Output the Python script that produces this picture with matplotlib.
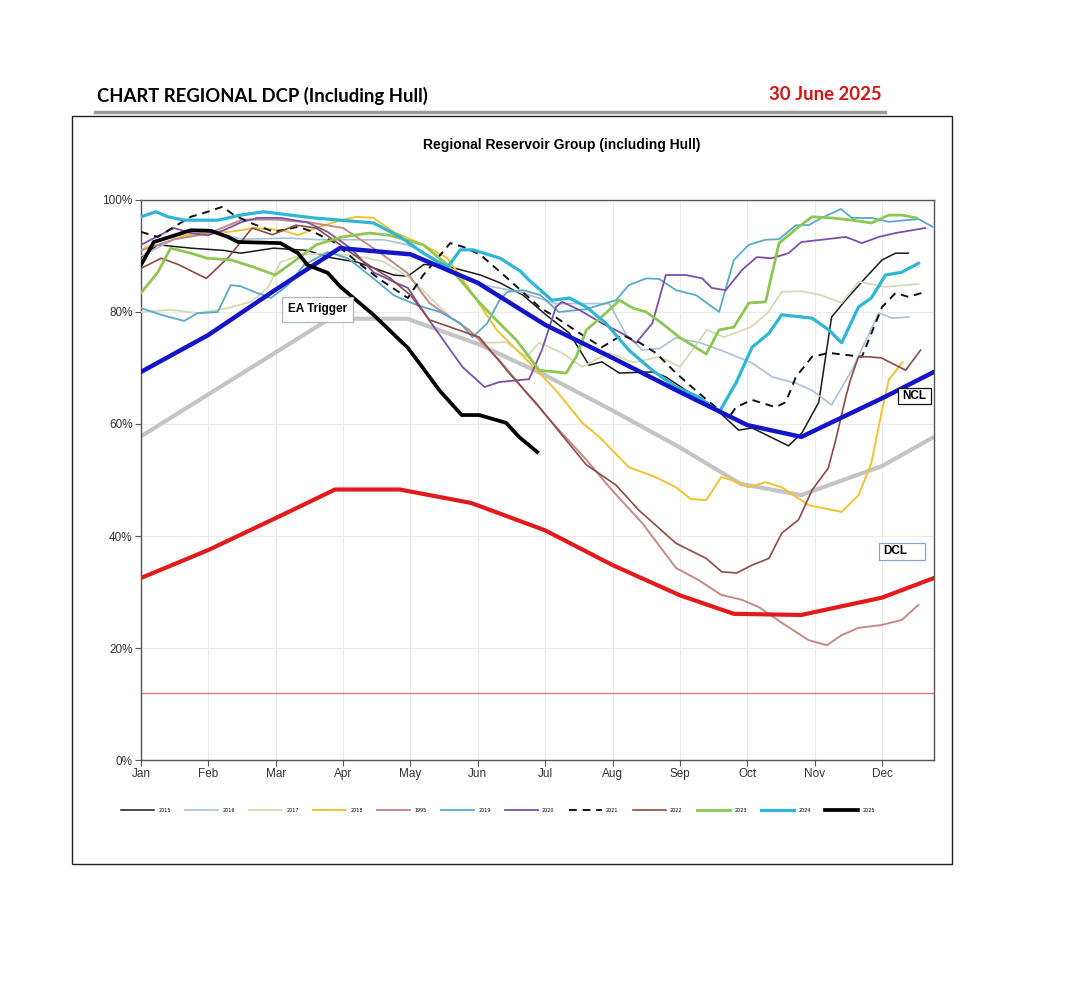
import matplotlib.pyplot as plt
from matplotlib.patches import Rectangle
from matplotlib.lines import Line2D

# month positions (0 = Jan) and percentage full
months = ['Jan', 'Feb', 'Mar', 'Apr', 'May', 'Jun', 'Jul', 'Aug', 'Sep', 'Oct', 'Nov', 'Dec']

ncl_x = [0, 1, 2, 2.95, 4, 5, 6, 7, 8, 9, 9.8, 11, 11.77]
ncl_y = [69.3, 75.9, 84.0, 91.4, 90.3, 85.2, 77.7, 71.8, 65.7, 59.8, 57.7, 64.6, 69.3]

dcl_x = [0, 1, 2, 2.88, 3.84, 4.9, 6, 7, 8, 8.8, 9.8, 11, 11.77]
dcl_y = [32.5, 37.5, 43.2, 48.3, 48.3, 45.9, 41.0, 34.8, 29.4, 26.1, 25.9, 29.0, 32.5]

ea_x = [0, 2.8, 3.95, 5, 6, 7, 8, 8.9, 9.8, 11, 11.77]
ea_y = [57.8, 78.8, 78.8, 74.3, 68.7, 62.4, 55.8, 49.3, 47.3, 52.5, 57.7]

x2015 = [0, 0.25, 0.74, 1.23, 1.48, 1.97, 2.47, 2.77, 3.21, 3.75, 3.96, 4.2, 4.6, 5.04, 5.33,
         5.67, 6.01, 6.36, 6.65, 6.84, 7.1, 7.59, 7.79, 8.09, 8.47, 8.87, 9.07, 9.61, 9.81,
         10.06, 10.25, 10.5, 10.76, 11.0, 11.2, 11.39]
y2015 = [89.8, 92, 91.4, 91, 90.5, 91.4, 91, 89.8, 88.9, 86.6, 86.4, 88.5, 88, 86.6, 85.2,
         83, 79.5, 76.2, 70.5, 71.1, 69.1, 69.3, 68.4, 66, 63.4, 58.9, 59.3, 56.1, 58.4,
         63.9, 79.1, 82.7, 86.2, 89.3, 90.5, 90.5]

x2016 = [0, 0.5, 1.0, 1.5, 2.2, 2.66, 3.2, 3.6, 3.96, 4.19, 4.6, 5.0, 5.61, 6.16, 6.95,
         7.2, 7.44, 7.7, 7.94, 8.3, 8.6, 9.07, 9.37, 9.72, 9.96, 10.25, 10.55, 10.95, 11.15, 11.39]
y2016 = [90, 93, 94.5, 93, 93.2, 92.9, 92.9, 92.9, 92, 90.7, 87, 85, 83.6, 81.5, 81.5,
         76, 73.2, 73.5, 75.4, 74.5, 73.2, 70.9, 68.4, 67.3, 66, 63.4, 69.6, 79.8, 78.9, 79.1]

x2017 = [0, 0.44, 0.84, 1.29, 1.63, 1.88, 2.07, 2.37, 2.77, 3.2, 3.6, 4.0, 4.6, 5.13, 5.42,
         5.72, 5.91, 6.25, 6.55, 6.95, 7.3, 7.7, 8.0, 8.4, 8.65, 9.05, 9.3, 9.51, 9.81, 10.1,
         10.4, 10.65, 11.05, 11.54]
y2017 = [80, 80.4, 79.8, 80.7, 81.8, 84.3, 88.9, 90.2, 90.5, 90, 89, 86, 79, 74.5, 74.6,
         72, 74.5, 72.7, 70.2, 72.7, 71, 72, 70.2, 76.8, 75.5, 77.3, 79.8, 83.6, 83.7, 83,
         81.6, 85.4, 84.5, 85]

x2018 = [0, 0.3, 0.8, 1.3, 1.7, 2.1, 2.33, 2.6, 2.96, 3.2, 3.45, 3.75, 4.19, 4.55, 4.85,
         5.28, 5.77, 6.16, 6.55, 6.8, 7.24, 7.64, 7.94, 8.16, 8.39, 8.61, 8.77, 9.02, 9.27,
         9.51, 9.91, 10.4, 10.65, 10.84, 10.99, 11.1, 11.3]
y2018 = [91, 93, 94, 94.3, 95, 94.6, 93.7, 95, 96.4, 97, 96.8, 94.3, 92, 89.6, 84.5,
         76.8, 70.9, 66, 60.2, 57.7, 52.3, 50.5, 48.7, 46.6, 46.4, 50.5, 50, 48.7, 49.6,
         48.7, 45.5, 44.3, 47.3, 53, 62, 67.9, 71]

x1995 = [0, 0.5, 1.0, 1.5, 2.0, 2.5, 3.0, 3.5, 3.95, 4.28, 4.87, 5.32, 5.76, 6.16, 6.61,
         6.99, 7.44, 7.94, 8.28, 8.61, 8.92, 9.17, 9.51, 9.91, 10.18, 10.4, 10.65, 10.99,
         11.29, 11.54]
y1995 = [91, 93, 94, 96.5, 96.5, 96, 95, 91, 87, 81.6, 76.8, 71.4, 65, 59.5, 53.6,
         48.2, 42.3, 34.3, 32.1, 29.5, 28.6, 27.3, 24.5, 21.4, 20.5, 22.3, 23.6, 24.1,
         25, 27.7]

x2019 = [0, 0.3, 0.64, 0.84, 1.14, 1.33, 1.48, 1.68, 1.93, 2.18, 2.42, 2.77, 3.07, 3.45,
         3.75, 4.1, 4.44, 4.74, 4.92, 5.14, 5.32, 5.44, 5.67, 5.93, 6.2, 6.6, 7.05, 7.24,
         7.5, 7.69, 7.94, 8.24, 8.58, 8.8, 9.02, 9.27, 9.47, 9.72, 9.91, 10.1, 10.39, 10.55,
         10.84, 11.1, 11.54, 11.75]
y2019 = [80.7, 79.5, 78.4, 79.8, 80, 84.8, 84.6, 83.6, 82.5, 84.8, 88.4, 90.7, 89.6, 86,
         83, 81.2, 80, 78, 75.5, 78, 82.1, 83.6, 83.9, 83, 80, 80.5, 82.1, 84.8,
         86, 85.9, 83.9, 83, 80, 89.3, 92, 92.9, 93, 95.5, 95.5, 96.8, 98.4, 96.8,
         96.8, 96.1, 96.6, 95.2]

x2020 = [0, 0.49, 0.74, 0.99, 1.23, 1.48, 1.73, 2.07, 2.47, 2.77, 3.11, 3.45, 3.75, 3.96,
         4.28, 4.77, 5.1, 5.32, 5.76, 5.95, 6.16, 6.25, 6.5, 6.84, 7.14, 7.35, 7.59, 7.79,
         8.09, 8.33, 8.47, 8.68, 8.92, 9.14, 9.36, 9.61, 9.8, 10.1, 10.46, 10.7, 10.95,
         11.2, 11.64]
y2020 = [92, 95, 94.1, 93.7, 94.6, 96, 96.8, 96.8, 96, 94.3, 91.4, 87.1, 85.4, 84.3,
         78.5, 70.2, 66.6, 67.5, 68, 73.2, 80.9, 81.8, 80.4, 78, 76.2, 74.5, 78, 86.6,
         86.6, 86, 84.3, 83.9, 87.5, 89.8, 89.6, 90.5, 92.5, 92.9, 93.4, 92.3, 93.4,
         94.1, 95]

x2021 = [0, 0.25, 0.49, 0.74, 0.99, 1.21, 1.38, 1.63, 1.97, 2.33, 2.56, 2.86, 3.21, 3.56,
         3.96, 4.19, 4.59, 4.79, 5.04, 5.44, 5.93, 6.1, 6.55, 6.84, 7.14, 7.39, 7.64, 7.94,
         8.28, 8.58, 8.73, 8.83, 9.07, 9.42, 9.57, 9.72, 9.96, 10.21, 10.7, 11.0, 11.2,
         11.39, 11.59]
y2021 = [94.3, 93.4, 95.2, 97, 97.9, 98.8, 97.3, 95.9, 94.3, 95.2, 94.3, 92.5, 88.9, 85.7,
         82.5, 86.6, 92.3, 91.6, 90.2, 86, 80.7, 79.5, 75.9, 73.7, 75.9, 74.6, 72.7, 69.1,
         65.5, 62.5, 61.2, 63, 64.3, 63, 63.9, 68.4, 72, 72.7, 72, 80.9, 83.4,
         82.7, 83.4]

x2022 = [0, 0.3, 0.55, 0.97, 1.3, 1.65, 1.95, 2.3, 2.6, 2.9, 3.3, 3.7, 4.0, 4.28, 5.02,
         5.47, 5.86, 6.23, 6.61, 7.05, 7.39, 7.94, 8.39, 8.62, 8.84, 9.07, 9.32, 9.51, 9.76,
         9.96, 10.2, 10.31, 10.46, 10.53, 10.65, 10.8, 10.99, 11.35, 11.57]
y2022 = [87.8, 89.6, 88.5, 86, 89.8, 95, 93.8, 95.5, 95, 92.5, 89, 86, 83, 78.6, 75.5,
         69, 63.8, 58.3, 52.7, 49.1, 44.6, 38.7, 36, 33.6, 33.4, 34.8, 36, 40.5, 42.9,
         48.2, 52.1, 57.1, 64.8, 67.9, 72, 72, 71.8, 69.6, 73.2]

x2023 = [0, 0.25, 0.44, 0.74, 0.98, 1.34, 1.7, 1.99, 2.3, 2.6, 2.99, 3.39, 3.69, 4.19,
         4.55, 5.0, 5.27, 5.57, 5.91, 6.31, 6.46, 6.61, 6.9, 7.1, 7.3, 7.5, 7.73, 7.99,
         8.39, 8.58, 8.8, 9.02, 9.27, 9.47, 9.76, 9.96, 10.25, 10.55, 10.84, 11.1, 11.29,
         11.51]
y2023 = [83.4, 87.1, 91.4, 90.5, 89.6, 89.3, 87.9, 86.6, 89.3, 92, 93.4, 94.1, 93.7, 92,
         88.4, 82, 78.6, 75, 69.6, 69.1, 72, 76.8, 79.8, 82.1, 80.7, 80, 78, 75.5,
         72.5, 76.8, 77.3, 81.6, 81.8, 92.3, 95.2, 97, 96.8, 96.4, 95.9, 97.3, 97.3,
         96.8]

x2024 = [0, 0.22, 0.4, 0.64, 1.14, 1.48, 1.82, 2.22, 2.56, 2.96, 3.45, 3.85, 4.19, 4.55,
         4.74, 4.93, 5.33, 5.63, 5.76, 6.1, 6.36, 6.61, 6.9, 7.24, 7.59, 7.94, 8.28, 8.58,
         8.83, 9.07, 9.32, 9.51, 9.96, 10.21, 10.4, 10.65, 10.84, 11.05, 11.29, 11.54]
y2024 = [97, 97.9, 97, 96.4, 96.4, 97.3, 97.9, 97.3, 96.8, 96.4, 95.9, 93.4, 90.5, 88,
         91.1, 91.1, 89.6, 87.3, 85.7, 82.1, 82.5, 80.9, 78, 73.2, 69.6, 66.6, 64.8, 62.1,
         67.3, 73.7, 76.2, 79.5, 78.9, 76.8, 74.5, 80.9, 82.5, 86.6, 87.1, 88.7]

x2025 = [0, 0.19, 0.74, 1.04, 1.29, 1.44, 2.07, 2.33, 2.47, 2.77, 2.96, 3.45, 3.96, 4.13,
         4.43, 4.76, 5.02, 5.42, 5.61, 5.88]
y2025 = [88.4, 92.5, 94.6, 94.5, 93.4, 92.5, 92.3, 90.5, 88.4, 87, 84.5, 79.5, 73.6, 70.9,
         66, 61.6, 61.6, 60.2, 57.7, 55]

emergency_level = 12

years = [
    ('2015', x2015, y2015, '#1a1a1a', 1.1, '-'),
    ('2016', x2016, y2016, '#a9c1d9', 1.2, '-'),
    ('2017', x2017, y2017, '#d3dbb5', 1.3, '-'),
    ('2018', x2018, y2018, '#f1c232', 1.4, '-'),
    ('1995', x1995, y1995, '#c48a86', 1.4, '-'),
    ('2019', x2019, y2019, '#5aa9c9', 1.3, '-'),
    ('2020', x2020, y2020, '#7d4fa8', 1.3, '-'),
    ('2021', x2021, y2021, '#111111', 1.4, '--'),
    ('2022', x2022, y2022, '#8c4b43', 1.2, '-'),
    ('2023', x2023, y2023, '#8dc653', 2.0, '-'),
    ('2024', x2024, y2024, '#2fb6d6', 2.3, '-'),
    ('2025', x2025, y2025, '#000000', 2.7, '-'),
]

W, H = 1080, 988
fig = plt.figure(figsize=(W / 100, H / 100), dpi=100)
fig.patch.set_facecolor('white')

# header above the chart frame
hdr_font = ['Lato', 'DejaVu Sans']
fig.text(97 / W, 1 - 96 / H, 'CHART REGIONAL DCP (Including Hull)', fontsize=13.3,
         fontweight='bold', family=hdr_font, va='center', ha='left')
fig.text(882 / W, 1 - 95 / H, '30 June 2025', fontsize=13.3, fontweight='bold',
         family=hdr_font, color='#d41414', va='center', ha='right')
fig.add_artist(Line2D([95 / W, 885 / W], [1 - 112 / H, 1 - 112 / H], color='#9a9a9a', lw=2.5))
fig.add_artist(Rectangle((72 / W, 1 - 864 / H), 880 / W, 748 / H, fill=False,
                         ec='#222222', lw=1.0, transform=fig.transFigure))

fig.text(562 / W, 1 - 145 / H, 'Regional Reservoir Group (including Hull)', fontsize=10,
         fontweight='bold', family=['Liberation Sans', 'DejaVu Sans'], ha='center', va='center')

ax = fig.add_axes([141 / W, 1 - 760 / H, (934 - 141) / W, (760 - 200) / H])

ax.plot(ea_x, ea_y, color='#c4c4c4', lw=3.0, zorder=2, solid_capstyle='butt')
handles = []
for name, xs, ys, col, lw, ls in years:
    if name == '2025':
        continue
    if ls == '--':
        ln, = ax.plot(xs, ys, color=col, lw=lw, dashes=(4, 3), zorder=3)
    else:
        ln, = ax.plot(xs, ys, color=col, lw=lw, zorder=3)
    handles.append(ln)
ax.plot(ncl_x, ncl_y, color='#1414c8', lw=3.2, zorder=4)
ax.plot(dcl_x, dcl_y, color='#e31a1c', lw=3.0, zorder=4)
ln25, = ax.plot(x2025, y2025, color='#000000', lw=2.7, zorder=5)
handles.append(ln25)
ax.axhline(emergency_level, color='#e07a7a', lw=1.0, zorder=2)

ax.set_xlim(0, 11.77)
ax.set_ylim(0, 100)
ax.set_xticks(range(12))
ax.set_xticklabels(months, fontsize=8.5, color='#333333', family=['Liberation Sans', 'DejaVu Sans'])
ax.set_yticks(range(0, 101, 20))
ax.set_yticklabels([f'{v}%' for v in range(0, 101, 20)], fontsize=8.5, color='#333333',
                   family=['Liberation Sans', 'DejaVu Sans'])
ax.tick_params(axis='both', length=4, width=0.8, color='#555555', pad=2)
ax.grid(True, color='#ececec', lw=0.8)
ax.set_axisbelow(True)
for sp in ax.spines.values():
    sp.set_color('#555555')
    sp.set_linewidth(1.0)


def label_box(x0, x1, y0, y1, text, tx, ha, ec):
    ax.add_patch(Rectangle((x0, y0), x1 - x0, y1 - y0, fc='white', ec=ec, lw=0.9,
                           zorder=6, clip_on=False))
    ax.text(tx, (y0 + y1) / 2, text, ha=ha, va='center', fontsize=8.5, fontweight='bold',
            family=['Liberation Sans', 'DejaVu Sans'], zorder=7, clip_on=False)


label_box(2.10, 3.14, 78.2, 82.7, 'EA Trigger', 2.62, 'center', '#a8b8c8')
label_box(11.24, 11.72, 63.6, 66.4, 'NCL', 11.48, 'center', '#111111')
label_box(10.96, 11.63, 35.7, 38.8, 'DCL', 11.02, 'left', '#8aa6c0')

fig.legend(handles, [y[0] for y in years], loc='center', bbox_to_anchor=(498 / W, 1 - 810 / H),
           ncol=12, fontsize=3.5, frameon=False, handlelength=6.8, handletextpad=0.8,
           columnspacing=3.0)

fig.savefig('out.png', dpi=100)
